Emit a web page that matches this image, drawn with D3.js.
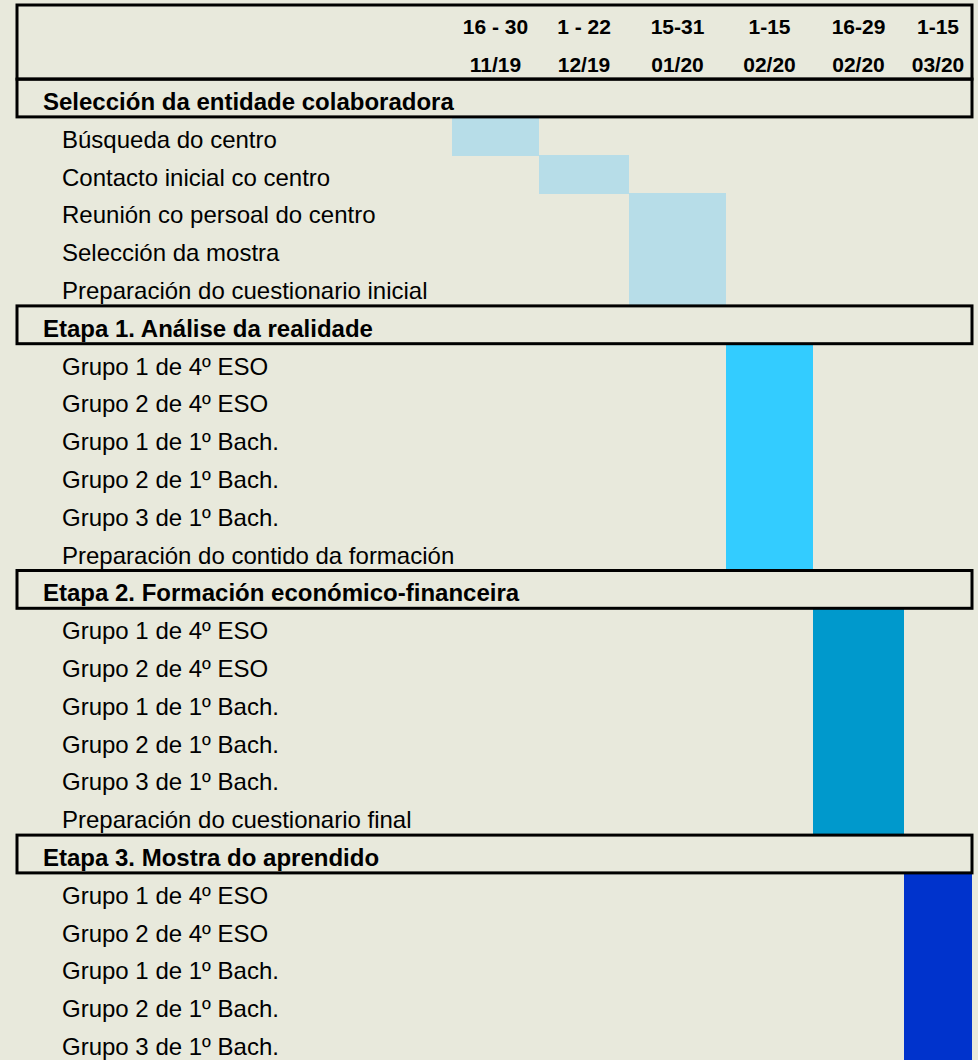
<!DOCTYPE html>
<html>
<head>
<meta charset="utf-8">
<script src="https://cdn.jsdelivr.net/npm/d3@7"></script>
<style>
  html, body { margin: 0; padding: 0; background: #e8e9dc; }
  svg { display: block; }
  text { font-family: "Liberation Sans", Arial, sans-serif; fill: #000; }
</style>
</head>
<body>
<svg></svg>
<script>
// periods (columns of the gantt)
const periodDays = ["16 - 30", "1 - 22", "15-31", "1-15", "16-29", "1-15"];
const periodMonths = ["11/19", "12/19", "01/20", "02/20", "02/20", "03/20"];

// sections and their tasks
const sections = [
  "Selección da entidade colaboradora",
  "Etapa 1. Análise da realidade",
  "Etapa 2. Formación económico-financeira",
  "Etapa 3. Mostra do aprendido"
];
const sectionTasks = [
  ["Búsqueda do centro", "Contacto inicial co centro", "Reunión co persoal do centro",
   "Selección da mostra", "Preparación do cuestionario inicial"],
  ["Grupo 1 de 4º ESO", "Grupo 2 de 4º ESO", "Grupo 1 de 1º Bach.", "Grupo 2 de 1º Bach.",
   "Grupo 3 de 1º Bach.", "Preparación do contido da formación"],
  ["Grupo 1 de 4º ESO", "Grupo 2 de 4º ESO", "Grupo 1 de 1º Bach.", "Grupo 2 de 1º Bach.",
   "Grupo 3 de 1º Bach.", "Preparación do cuestionario final"],
  ["Grupo 1 de 4º ESO", "Grupo 2 de 4º ESO", "Grupo 1 de 1º Bach.", "Grupo 2 de 1º Bach.",
   "Grupo 3 de 1º Bach."]
];
// index of the period in which each task takes place
const taskPeriods = [
  [0, 1, 2, 2, 2],
  [3, 3, 3, 3, 3, 3],
  [4, 4, 4, 4, 4, 4],
  [5, 5, 5, 5, 5]
];
const sectionColors = ["#b7dde8", "#33ccff", "#0099cc", "#0033cc"];

const width = 978, height = 1060;
const rowH = 37.8, topY = 3.5;
const boxLeft = 17, boxRight = 972;

// build the row list: 2 header rows, then for each section a title row + its tasks
let rows = [{ id: "h0", type: "header" }, { id: "h1", type: "header" }];
sections.forEach((s, i) => {
  rows.push({ id: "s" + i, type: "section", label: s, section: i });
  sectionTasks[i].forEach((t, j) => {
    rows.push({ id: "t" + i + "_" + j, type: "task", label: t, section: i, period: taskPeriods[i][j] });
  });
});

const y = d3.scaleBand()
  .domain(rows.map(d => d.id))
  .range([topY, topY + rows.length * rowH])
  .padding(0);

// column edges are not equal in the original
const x = d3.scaleLinear()
  .domain([0, 1, 2, 3, 4, 5, 6])
  .range([452, 539, 629, 726, 813, 904, 972]);

const color = d3.scaleOrdinal().domain(d3.range(sections.length)).range(sectionColors);

const svg = d3.select("svg").attr("width", width).attr("height", height);

// bars
const tasks = rows.filter(d => d.type === "task");
svg.append("g")
  .attr("shape-rendering", "crispEdges")
  .selectAll("rect")
  .data(tasks)
  .join("rect")
  .attr("x", d => x(d.period))
  .attr("y", d => Math.round(y(d.id)))
  .attr("width", d => x(d.period + 1) - x(d.period))
  .attr("height", d => Math.round(y(d.id) + y.bandwidth()) - Math.round(y(d.id)) + 1)
  .attr("fill", d => color(d.section));

// task labels
svg.append("g")
  .selectAll("text")
  .data(tasks)
  .join("text")
  .attr("x", 62)
  .attr("y", d => y(d.id) + y.bandwidth() - 7)
  .style("font-size", "24px")
  .text(d => d.label);

// section boxes + labels
const secRows = rows.filter(d => d.type === "section");
const sec = svg.append("g").selectAll("g").data(secRows).join("g");
sec.append("rect")
  .attr("x", boxLeft)
  .attr("y", d => y(d.id))
  .attr("width", boxRight - boxLeft)
  .attr("height", y.bandwidth())
  .attr("fill", "none")
  .attr("stroke", "#000")
  .attr("stroke-width", 3);
sec.append("text")
  .attr("x", 43)
  .attr("y", d => y(d.id) + y.bandwidth() - 7)
  .style("font-size", "24px")
  .style("font-weight", "bold")
  .text(d => d.label);

// header box
svg.append("rect")
  .attr("x", boxLeft)
  .attr("y", 5)
  .attr("width", boxRight - boxLeft)
  .attr("height", y("s0") - 5)
  .attr("fill", "none")
  .attr("stroke", "#000")
  .attr("stroke-width", 3);

const hdr = svg.append("g").style("font-size", "21px").style("font-weight", "bold")
  .attr("text-anchor", "middle");
hdr.selectAll("text.days")
  .data(periodDays)
  .join("text")
  .attr("class", "days")
  .attr("x", (d, i) => (x(i) + x(i + 1)) / 2)
  .attr("y", y("h0") + y.bandwidth() - 7)
  .text(d => d);
hdr.selectAll("text.months")
  .data(periodMonths)
  .join("text")
  .attr("class", "months")
  .attr("x", (d, i) => (x(i) + x(i + 1)) / 2)
  .attr("y", y("h1") + y.bandwidth() - 7)
  .text(d => d);
</script>
</body>
</html>
